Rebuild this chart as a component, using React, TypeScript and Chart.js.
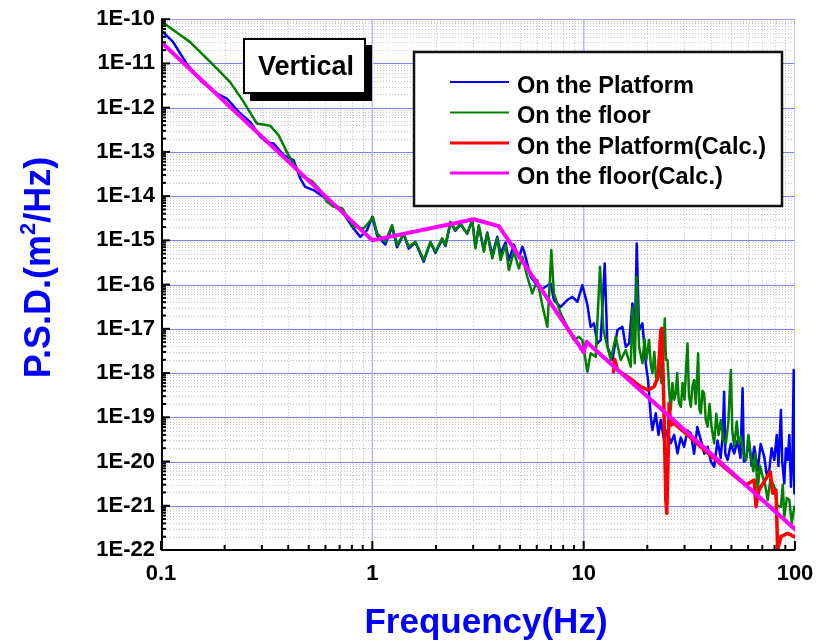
import { useEffect, useRef } from 'react';
import { Chart, registerables } from 'chart.js';

Chart.register(...registerables);

const FONT = '"Liberation Sans", Arial, Helvetica, sans-serif';

// ---- axis ticks ----
const xTickValues = [0.1, 1, 10, 100];
const yTickValues = [1e-22, 1e-21, 1e-20, 1e-19, 1e-18, 1e-17, 1e-16, 1e-15, 1e-14, 1e-13, 1e-12, 1e-11, 1e-10];
const minorSteps = [2, 3, 4, 5, 6, 7, 8, 9];

// ---- series ----
const seriesLabels = ['On the Platform', 'On the floor', 'On the Platform(Calc.)', 'On the floor(Calc.)'];
const seriesColors = ['#0000ff', '#008000', '#ff0000', '#ff00ff'];

const platformFreq = [
  0.1, 0.114, 0.132, 0.156, 0.184, 0.205, 0.233, 0.264, 0.295, 0.317, 0.341, 0.38, 0.424, 0.456, 0.481, 0.527,
  0.588, 0.632, 0.705, 0.815, 0.877, 0.944, 1.0, 1.053, 1.152, 1.24, 1.309, 1.407, 1.486, 1.599, 1.751, 1.883,
  1.989, 2.14, 2.218, 2.343, 2.474, 2.613, 2.81, 2.969, 3.077, 3.19, 3.37, 3.497, 3.693, 3.9, 4.043, 4.268,
  4.426, 4.674, 4.937, 5.124, 5.21, 5.61, 6.25, 6.98, 7.23, 7.78, 8.37, 8.84, 9.34, 9.86, 10.41, 10.79,
  11.19, 11.61, 12.04, 12.58, 12.95, 13.68, 14.45, 15.25, 15.82, 16.4, 17.01, 17.45, 17.83, 18.29, 18.97, 19.67,
  20.17, 20.77, 21.16, 21.94, 22.6, 23.17, 24.0, 24.9, 25.84, 26.8, 27.8, 28.8, 29.88, 31.0, 32.14, 33.3,
  34.5, 35.85, 37.2, 38.58, 40.0, 41.46, 43.0, 44.5, 45.5, 46.2, 46.8, 47.97, 49.7, 51.56, 53.5, 55.2,
  56.5, 57.3, 58.6, 60.5, 62.3, 64.14, 66.57, 68.8, 71.54, 73.5, 75.55, 77.5, 79.8, 82.0, 83.5, 85.8,
  87.0, 89.0, 90.5, 92.35, 94.0, 95.7, 97.3, 98.6, 99.2, 100
];
const platformPSD = [
  5.64e-11, 3.07e-11, 1.0e-11, 3.83e-12, 2.09e-12, 1.61e-12, 8.04e-13, 4.78e-13, 2.19e-13, 1.64e-13, 1.55e-13, 8.45e-14, 6.52e-14, 2.51e-14, 1.62e-14, 1.37e-14,
  9.64e-15, 7.43e-15, 5.27e-15, 1.86e-15, 1.2e-15, 1.71e-15, 3.4e-15, 1.3e-15, 8.0e-16, 2.0e-15, 7.0e-16, 1.4e-15, 6.5e-16, 9.0e-16, 3.3e-16, 9.0e-16,
  5.2e-16, 1.05e-15, 7.5e-16, 2.5e-15, 1.65e-15, 2.3e-15, 1.4e-15, 2.8e-15, 7.0e-16, 2.1e-15, 6.0e-16, 1.5e-15, 4.6e-16, 1.2e-15, 5.0e-16, 9.0e-16,
  3.5e-16, 8.0e-16, 4.0e-16, 7.15e-16, 6.0e-16, 1.5e-16, 7.52e-17, 1.06e-16, 4.47e-17, 3.15e-17, 4.47e-17, 5.3e-17, 4.09e-17, 9.75e-17, 3.5e-17, 1.11e-17,
  1.33e-17, 4.69e-18, 5.57e-18, 3.01e-16, 3.93e-18, 1.97e-18, 9.37e-18, 1.11e-17, 3.93e-18, 4.69e-18, 3.76e-17, 5.57e-18, 8.53e-16, 9.37e-18, 1.33e-17, 1.66e-18,
  6.95e-19, 1.03e-19, 5.15e-20, 1.23e-19, 4.0e-20, 8.67e-20, 3.0e-20, 5.0e-20, 2.58e-20, 4.0e-20, 1.53e-20, 3.5e-20, 2.16e-20, 5.0e-20, 4.34e-20, 1.5e-20,
  6.0e-20, 3.06e-20, 1.5e-20, 2.16e-20, 1.0e-20, 7.62e-21, 3.0e-20, 1.2e-20, 4.0e-20, 3.78e-19, 1.5e-20, 1.08e-20, 2.5e-20, 1.53e-20, 3.0e-20, 1.2e-20,
  4.51e-19, 1.0e-20, 1.08e-20, 3.0e-20, 8.0e-21, 2.16e-20, 6.43e-21, 2.5e-20, 1.28e-20, 5.0e-21, 6.43e-21, 2.0e-20, 1.08e-20, 4.0e-20, 8.0e-21, 1.46e-19,
  1.0e-20, 3.22e-21, 2.0e-20, 1.08e-20, 4.0e-20, 2.7e-21, 1.5e-20, 1.17e-18, 1.91e-21, 3.0e-21
];

const floorFreq = [
  0.1, 0.137, 0.171, 0.212, 0.246, 0.284, 0.329, 0.36, 0.401, 0.456, 0.518, 0.567, 0.61, 0.656, 0.719, 0.815,
  0.91, 1.008, 1.053, 1.152, 1.24, 1.309, 1.407, 1.486, 1.599, 1.751, 1.883, 1.989, 2.14, 2.218, 2.343, 2.474,
  2.613, 2.81, 2.969, 3.077, 3.19, 3.37, 3.497, 3.693, 3.9, 4.043, 4.268, 4.426, 4.674, 4.937, 5.124, 5.411,
  5.714, 6.034, 6.373, 6.73, 6.923, 7.03, 7.231, 7.78, 8.37, 8.995, 9.5, 9.86, 10.41, 10.79, 11.4, 11.95,
  12.4, 12.95, 13.43, 14.18, 14.97, 15.82, 16.7, 17.01, 17.45, 17.83, 18.29, 18.97, 19.4, 19.8, 20.39, 20.8,
  21.16, 21.6, 22.0, 22.35, 22.8, 23.3, 23.8, 24.2, 24.5, 24.93, 25.4, 25.84, 26.3, 26.8, 27.29, 27.7,
  28.2, 28.83, 29.4, 30.0, 30.5, 31.0, 31.5, 32.14, 32.7, 33.32, 33.9, 34.4, 34.8, 35.3, 35.85, 36.5,
  37.16, 37.8, 38.58, 39.4, 40.3, 41.46, 42.4, 43.5, 44.6, 45.8, 47.1, 48.4, 49.0, 49.73, 50.5, 51.56,
  53.0, 54.2, 55.5, 57.0, 58.6, 60.2, 61.87, 63.5, 65.0, 66.57, 68.3, 70.3, 72.2, 74.24, 76.5, 79.8,
  82.5, 85.8, 87.5, 89.0, 91.5, 94.0, 96.5, 99.2
];
const floorPSD = [
  9.0e-11, 3.07e-11, 1.08e-11, 3.83e-12, 1.35e-12, 4.4e-13, 3.88e-13, 2.39e-13, 8.45e-14, 2.99e-14, 2.18e-14, 1.37e-14, 7.43e-15, 5.73e-15, 5.36e-15, 2.02e-15,
  1.86e-15, 3.3e-15, 1.44e-15, 9.27e-16, 2.21e-15, 7.81e-16, 1.44e-15, 7.15e-16, 9.27e-16, 3.58e-16, 9.27e-16, 5.51e-16, 1.11e-15, 7.81e-16, 2.63e-15, 1.71e-15,
  2.42e-15, 1.44e-15, 2.87e-15, 6.58e-16, 2.21e-15, 5.51e-16, 1.44e-15, 3.91e-16, 1.11e-15, 3.58e-16, 7.81e-16, 2.13e-16, 5.51e-16, 2.32e-16, 4.3e-16, 1.5e-16,
  6.33e-17, 1.26e-16, 3.44e-17, 1.11e-17, 1.26e-16, 6.02e-16, 6.33e-17, 2.23e-17, 1.11e-17, 5.57e-18, 6.61e-18, 5.57e-18, 1.07e-18, 2.79e-18, 2.33e-18, 2.52e-16,
  9.37e-18, 3.93e-18, 1.97e-18, 6.61e-18, 1.97e-18, 3.3e-18, 1.39e-18, 3.0e-17, 1.66e-18, 1.5e-16, 3.93e-18, 1.66e-18, 6.0e-18, 2.0e-18, 5.57e-18, 1.5e-18,
  9.84e-19, 3.0e-18, 8.0e-19, 6.95e-19, 2.0e-18, 6.0e-19, 3.0e-18, 1.72e-17, 2.0e-18, 1.97e-18, 4.0e-19, 1.46e-19, 6.0e-19, 2.5e-19, 3.48e-19, 1.0e-18,
  2.2e-19, 1.73e-19, 6.0e-19, 2.5e-19, 1.2e-18, 4.69e-18, 3.0e-19, 1.73e-19, 5.0e-19, 6.95e-19, 2.0e-19, 8.0e-19, 2.79e-18, 1.5e-19, 1.23e-19, 4.0e-19,
  3.48e-19, 9.0e-20, 6.11e-20, 2.0e-19, 6.0e-20, 2.58e-20, 1.2e-19, 4.0e-20, 8.67e-20, 3.0e-20, 2.58e-20, 8.0e-20, 3.0e-19, 1.17e-18, 5.0e-20, 2.16e-20,
  8.0e-20, 2.5e-20, 3.64e-20, 1.5e-20, 1.08e-20, 4.0e-20, 1.28e-20, 6.0e-21, 1.5e-20, 2.27e-21, 8.0e-21, 4.54e-21, 3.0e-21, 1.35e-21, 4.0e-21, 2.7e-21,
  1.0e-21, 9.53e-22, 3.0e-21, 5.66e-22, 1.5e-21, 1.35e-21, 4.0e-22, 9.53e-22
];

const platformCalcFreq = [
  13.83, 14.03, 14.45, 16.11, 18.62, 20.17, 21.54, 22.5, 23.17, 23.42, 23.68, 24.02, 24.47, 24.74, 25.09, 25.37,
  25.84, 26.79, 31.0, 37.16, 49.7, 58.6, 64.14, 65.35, 67.5, 76.4, 78.4, 81.3, 82.8, 85.8, 92.35, 99.2
];
const platformCalcPSD = [
  1.07e-18, 2.04e-18, 1.17e-18, 8.26e-19, 4.9e-19, 4.13e-19, 4.9e-19, 8.26e-19, 9.37e-18, 1.02e-17, 1.97e-18, 1.03e-19, 1.35e-21, 6.76e-22, 1.08e-20, 2.07e-19,
  6.68e-20, 7.3e-20, 3.97e-20, 1.82e-20, 5.5e-21, 2.95e-21, 3.82e-21, 9.53e-22, 2.27e-21, 5.9e-21, 1.91e-21, 2.27e-21, 1.0e-22, 2.0e-22, 2.38e-22, 2.0e-22
];

const floorCalcFreq = [0.1, 1.0, 3.02, 3.97, 10.0, 10.3, 100];
const floorCalcPSD = [3.07e-11, 1.0e-15, 3.0e-15, 2.1e-15, 2.94e-18, 5.1e-18, 2.94e-22];

const zip = (fs: number[], vs: number[]) => fs.map((f, i) => ({ x: f, y: vs[i] }));

const decor = {
  id: 'decor',
  beforeDatasetsDraw(chart: any) {
    const { ctx, chartArea: a, scales } = chart;
    const xs = scales.x, ys = scales.y;
    ctx.save();
    ctx.beginPath();
    ctx.rect(a.left, a.top, a.right - a.left, a.bottom - a.top);
    ctx.clip();
    // minor grid
    ctx.strokeStyle = '#c4c4c4';
    ctx.lineWidth = 1;
    ctx.setLineDash([1, 2]);
    for (const d of xTickValues.slice(0, -1)) {
      for (const m of minorSteps) {
        const px = Math.round(xs.getPixelForValue(d * m)) + 0.5;
        ctx.beginPath(); ctx.moveTo(px, a.top); ctx.lineTo(px, a.bottom); ctx.stroke();
      }
    }
    for (const d of yTickValues.slice(0, -1)) {
      for (const m of minorSteps) {
        const py = Math.round(ys.getPixelForValue(d * m)) + 0.5;
        ctx.beginPath(); ctx.moveTo(a.left, py); ctx.lineTo(a.right, py); ctx.stroke();
      }
    }
    ctx.setLineDash([]);
    // major grid
    ctx.strokeStyle = '#8080ff';
    ctx.lineWidth = 1;
    for (const v of yTickValues) {
      const py = Math.round(ys.getPixelForValue(v)) + 0.5;
      ctx.beginPath(); ctx.moveTo(a.left, py); ctx.lineTo(a.right, py); ctx.stroke();
    }
    ctx.strokeStyle = '#b8b8ff';
    ctx.lineWidth = 1.5;
    for (const v of xTickValues) {
      const px = xs.getPixelForValue(v);
      ctx.beginPath(); ctx.moveTo(px, a.top); ctx.lineTo(px, a.bottom); ctx.stroke();
    }
    ctx.restore();
  },
  afterDraw(chart: any) {
    const { ctx, chartArea: a, scales } = chart;
    const xs = scales.x, ys = scales.y;
    ctx.save();
    // axes
    ctx.strokeStyle = '#000';
    ctx.lineWidth = 2;
    ctx.beginPath();
    ctx.moveTo(a.left + 1, a.top);
    ctx.lineTo(a.left + 1, a.bottom);
    ctx.lineTo(a.right, a.bottom);
    ctx.stroke();
    // y ticks (inward)
    for (const d of yTickValues) {
      const py = ys.getPixelForValue(d);
      ctx.beginPath(); ctx.moveTo(a.left, py); ctx.lineTo(a.left + 9, py); ctx.stroke();
      if (d < yTickValues[yTickValues.length - 1]) {
        for (const m of minorSteps) {
          const q = ys.getPixelForValue(d * m);
          ctx.beginPath(); ctx.moveTo(a.left, q); ctx.lineTo(a.left + 5, q); ctx.stroke();
        }
      }
    }
    // x ticks (inward)
    for (const d of xTickValues) {
      const px = xs.getPixelForValue(d);
      ctx.beginPath(); ctx.moveTo(px, a.bottom); ctx.lineTo(px, a.bottom - 9); ctx.stroke();
      if (d < xTickValues[xTickValues.length - 1]) {
        for (const m of minorSteps) {
          const q = xs.getPixelForValue(d * m);
          ctx.beginPath(); ctx.moveTo(q, a.bottom); ctx.lineTo(q, a.bottom - 5); ctx.stroke();
        }
      }
    }

    // "Vertical" box with shadow
    ctx.fillStyle = '#000';
    ctx.fillRect(250, 45, 122, 56);
    ctx.fillStyle = '#fff';
    ctx.fillRect(244, 39, 121, 54);
    ctx.lineWidth = 2;
    ctx.strokeStyle = '#000';
    ctx.strokeRect(244, 39, 121, 54);
    ctx.fillStyle = '#000';
    ctx.font = `bold 27px ${FONT}`;
    ctx.textBaseline = 'alphabetic';
    ctx.textAlign = 'left';
    ctx.fillText('Vertical', 258, 75);

    // legend
    ctx.fillStyle = '#fff';
    ctx.fillRect(414, 52, 368, 154);
    ctx.strokeStyle = '#111';
    ctx.lineWidth = 2.5;
    ctx.strokeRect(414, 52, 368, 154);
    const rowY = [82, 112.5, 143, 173];
    const widths = [2, 2, 3, 3];
    ctx.font = `bold 23.6px ${FONT}`;
    for (let i = 0; i < seriesLabels.length; i++) {
      ctx.strokeStyle = seriesColors[i];
      ctx.lineWidth = widths[i];
      ctx.beginPath(); ctx.moveTo(450, rowY[i]); ctx.lineTo(509, rowY[i]); ctx.stroke();
      ctx.fillStyle = '#000';
      ctx.fillText(seriesLabels[i], 517, rowY[i] + 10.5);
    }

    // x title
    ctx.fillStyle = '#0000ff';
    ctx.font = `bold 35px ${FONT}`;
    ctx.textAlign = 'center';
    ctx.fillText('Frequency(Hz)', 486, 633);

    // y title (rotated, with superscript)
    ctx.save();
    ctx.translate(50, 267.5);
    ctx.rotate(-Math.PI / 2);
    ctx.textAlign = 'left';
    const big = `bold 36px ${FONT}`;
    const small = `bold 22px ${FONT}`;
    const parts: [string, string, number][] = [['P.S.D.(m', big, 0], ['2', small, -15], ['/Hz)', big, 0]];
    let total = 0;
    for (const [t, f] of parts) { ctx.font = f; total += ctx.measureText(t).width; }
    let cx = -total / 2;
    for (const [t, f, dy] of parts) {
      ctx.font = f;
      ctx.fillText(t, cx, dy);
      cx += ctx.measureText(t).width;
    }
    ctx.restore();

    ctx.restore();
  },
};

export default function App() {
  const ref = useRef<HTMLCanvasElement>(null);
  useEffect(() => {
    const canvas = ref.current;
    if (!canvas) return;
    const mk = (i: number, fs: number[], vs: number[], w: number, order: number) => ({
      label: seriesLabels[i],
      data: zip(fs, vs),
      borderColor: seriesColors[i],
      backgroundColor: seriesColors[i],
      borderWidth: w,
      pointRadius: 0,
      tension: 0,
      fill: false,
      order,
    });
    const chart = new Chart(canvas, {
      type: 'line',
      data: {
        datasets: [
          mk(0, platformFreq, platformPSD, 2.5, 3),
          mk(1, floorFreq, floorPSD, 2.5, 2),
          mk(2, platformCalcFreq, platformCalcPSD, 3.5, 1),
          mk(3, floorCalcFreq, floorCalcPSD, 4, 0),
        ],
      },
      options: {
        animation: false,
        responsive: false,
        maintainAspectRatio: false,
        layout: { padding: { left: 0, right: 36, top: 19, bottom: 0 } },
        plugins: { legend: { display: false }, tooltip: { enabled: false } },
        elements: { line: { borderJoinStyle: 'round', borderCapStyle: 'round' }, point: { radius: 0 } },
        scales: {
          x: {
            type: 'logarithmic',
            min: 0.1,
            max: 100,
            grid: { display: false, drawTicks: false },
            border: { display: false },
            afterFit: (s: any) => { s.height = 93; },
            afterBuildTicks: (s: any) => { s.ticks = xTickValues.map((v) => ({ value: v })); },
            ticks: {
              autoSkip: false,
              maxRotation: 0,
              padding: 11,
              color: '#000',
              font: { family: FONT, size: 22, weight: 'bold' },
              callback: (v: any) => String(v),
            },
          },
          y: {
            type: 'logarithmic',
            min: 1e-22,
            max: 1e-10,
            grid: { display: false, drawTicks: false },
            border: { display: false },
            afterFit: (s: any) => { s.width = 161; },
            afterBuildTicks: (s: any) => { s.ticks = yTickValues.map((v) => ({ value: v })); },
            ticks: {
              autoSkip: false,
              padding: 6,
              color: '#000',
              font: { family: FONT, size: 22, weight: 'bold' },
              callback: (v: any) => '1E' + Math.round(Math.log10(Number(v))),
            },
          },
        },
      } as any,
      plugins: [decor],
    });
    return () => chart.destroy();
  }, []);
  return (
    <div style={{ position: 'fixed', left: 0, top: 0, width: 831, height: 643, background: '#fff' }}>
      <canvas ref={ref} width={831} height={643} style={{ display: 'block', width: 831, height: 643 }} />
    </div>
  );
}
